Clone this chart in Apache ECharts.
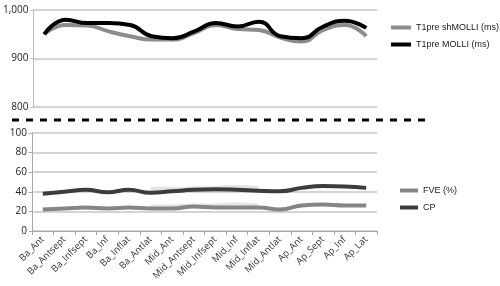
<!DOCTYPE html>
<html>
<head>
<meta charset="utf-8">
<script src="https://cdn.jsdelivr.net/npm/echarts@6/dist/echarts.min.js"></script>
<style>
  html, body { margin: 0; padding: 0; background: #fff; }
  #chart { width: 500px; height: 286px; }
</style>
</head>
<body>
<div id="chart"></div>
<script>
const segments = [
  'Ba_Ant', 'Ba_Antsept', 'Ba_Infsept', 'Ba_Inf', 'Ba_Inflat', 'Ba_Antlat',
  'Mid_Ant', 'Mid_Antsept', 'Mid_Infsept', 'Mid_Inf', 'Mid_Inflat', 'Mid_Antlat',
  'Ap_Ant', 'Ap_Sept', 'Ap_Inf', 'Ap_Lat'
];

// top panel, T1 in ms
const t1Shmolli = [950, 969, 968, 956, 946, 939, 939, 953, 969, 961, 959, 943, 935, 959, 969, 946];
const t1Molli   = [950, 980, 973, 973, 969, 946, 942, 956, 973, 966, 976, 946, 942, 966, 978, 963];

// bottom panel
const fve = [22, 23, 24, 23, 24, 23, 23, 25, 24, 24, 24, 22, 26, 27, 26, 26];
const cp  = [38, 40, 42, 39.5, 42, 39, 40.5, 42, 42.5, 42, 41, 40.5, 44, 46, 45.5, 44];
// faint trace visible behind the bottom lines
const cpFaint  = [null, null, null, null, null, 43, 43, 43.5, 44, 45, 44, null, null, null, null, null];
const fveFaint = [null, null, null, null, null, 25, 25, 26, 26, 27, 26, null, null, null, null, null];

const topTicks = [800, 900, 1000];
const bottomTicks = [0, 20, 40, 60, 80, 100];

const font = 'Open Sans';
const legendFont = 'Liberation Sans';
const gridColor = '#c6c6c6';

const chart = echarts.init(document.getElementById('chart'), null, { renderer: 'canvas' });

const option = {
  backgroundColor: '#ffffff',
  animation: false,
  textStyle: { fontFamily: font },
  grid: [
    { left: 32, right: 123, top: 10, height: 97 },
    { left: 32, right: 123, top: 133, height: 98 }
  ],
  xAxis: [
    {
      type: 'category',
      gridIndex: 0,
      data: segments,
      axisLine: { show: false },
      axisTick: { show: false },
      axisLabel: { show: false }
    },
    {
      type: 'category',
      gridIndex: 1,
      data: segments,
      axisLine: { lineStyle: { color: '#a8a8a8', width: 1 } },
      axisTick: { show: true, length: 4, lineStyle: { color: '#a8a8a8' } },
      axisLabel: {
        interval: 0,
        rotate: 45,
        fontSize: 9.5,
        color: '#333',
        margin: 7,
        fontFamily: font
      }
    }
  ],
  yAxis: [
    {
      type: 'value',
      gridIndex: 0,
      min: topTicks[0],
      max: topTicks[topTicks.length - 1],
      interval: 100,
      axisLine: { show: true, lineStyle: { color: '#bdbdbd' } },
      axisTick: { show: true, length: 3, lineStyle: { color: '#bdbdbd' } },
      axisLabel: { fontSize: 10, color: '#222', margin: 5, fontFamily: font },
      splitLine: { lineStyle: { color: gridColor, width: 1.5 } }
    },
    {
      type: 'value',
      gridIndex: 1,
      min: bottomTicks[0],
      max: bottomTicks[bottomTicks.length - 1],
      interval: 20,
      axisLine: { show: true, lineStyle: { color: '#a8a8a8' } },
      axisTick: { show: true, length: 3, lineStyle: { color: '#a8a8a8' } },
      axisLabel: { fontSize: 10, color: '#222', margin: 5, fontFamily: font },
      splitLine: { lineStyle: { color: gridColor, width: 1.5 } }
    }
  ],
  legend: [
    {
      orient: 'vertical',
      left: 386,
      top: 18,
      itemWidth: 20,
      itemHeight: 4,
      itemGap: 8,
      icon: 'rect',
      textStyle: { fontSize: 9, color: '#222', fontFamily: legendFont },
      data: ['T1pre shMOLLI (ms)', 'T1pre MOLLI (ms)']
    },
    {
      orient: 'vertical',
      left: 395,
      top: 181,
      itemWidth: 18,
      itemHeight: 4,
      itemGap: 8,
      icon: 'rect',
      textStyle: { fontSize: 9, color: '#222', fontFamily: legendFont },
      data: ['FVE (%)', 'CP']
    }
  ],
  graphic: [
    {
      type: 'line',
      shape: { x1: 12, y1: 120, x2: 425, y2: 120 },
      style: { stroke: '#000', lineWidth: 3, lineDash: [7, 7] },
      silent: true
    }
  ],
  series: [
    {
      name: 'T1pre shMOLLI (ms)',
      type: 'line',
      xAxisIndex: 0,
      yAxisIndex: 0,
      smooth: 0.5,
      showSymbol: false,
      data: t1Shmolli,
      lineStyle: { color: '#8c8c8c', width: 4 },
      itemStyle: { color: '#8c8c8c' },
      z: 2
    },
    {
      name: 'T1pre MOLLI (ms)',
      type: 'line',
      xAxisIndex: 0,
      yAxisIndex: 0,
      smooth: 0.5,
      showSymbol: false,
      data: t1Molli,
      lineStyle: { color: '#000000', width: 4 },
      itemStyle: { color: '#000000' },
      z: 3
    },
    {
      name: 'cpFaint',
      type: 'line',
      xAxisIndex: 1,
      yAxisIndex: 1,
      smooth: 0.5,
      showSymbol: false,
      data: cpFaint,
      lineStyle: { color: '#e4e4e4', width: 4 },
      z: 1
    },
    {
      name: 'fveFaint',
      type: 'line',
      xAxisIndex: 1,
      yAxisIndex: 1,
      smooth: 0.5,
      showSymbol: false,
      data: fveFaint,
      lineStyle: { color: '#e4e4e4', width: 4 },
      z: 1
    },
    {
      name: 'FVE (%)',
      type: 'line',
      xAxisIndex: 1,
      yAxisIndex: 1,
      smooth: 0.5,
      showSymbol: false,
      data: fve,
      lineStyle: { color: '#858585', width: 4 },
      itemStyle: { color: '#858585' },
      z: 2
    },
    {
      name: 'CP',
      type: 'line',
      xAxisIndex: 1,
      yAxisIndex: 1,
      smooth: 0.5,
      showSymbol: false,
      data: cp,
      lineStyle: { color: '#3c3c3c', width: 4 },
      itemStyle: { color: '#3c3c3c' },
      z: 3
    }
  ]
};

chart.setOption(option);
</script>
</body>
</html>
